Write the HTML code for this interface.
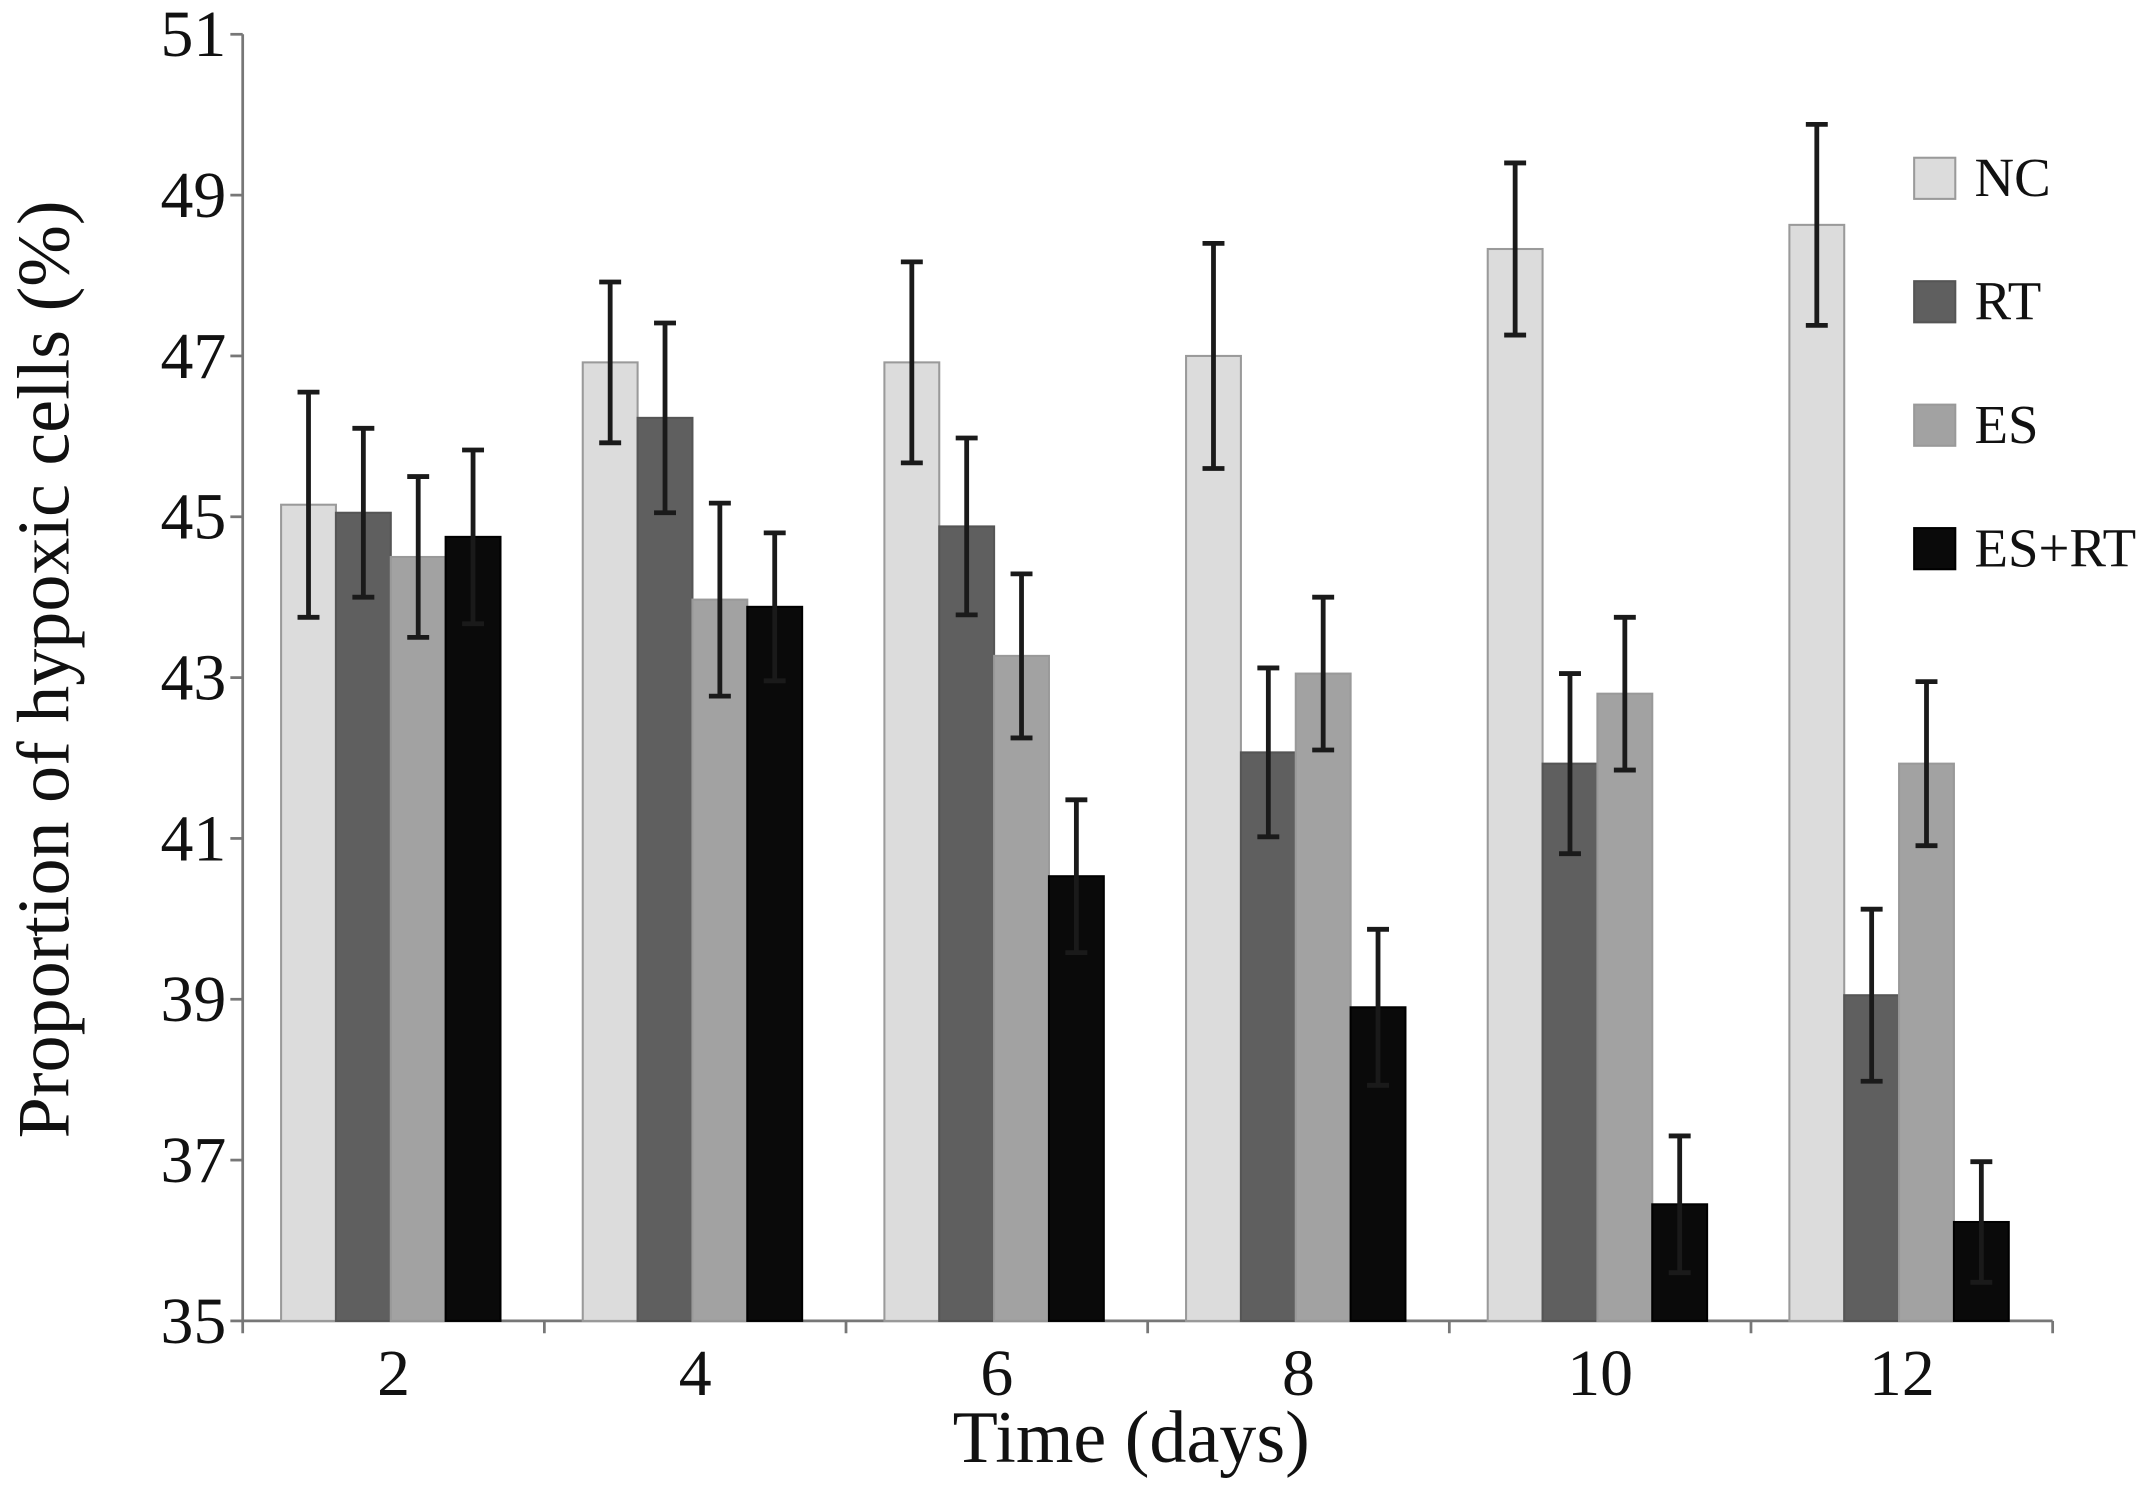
<!DOCTYPE html>
<html><head><meta charset="utf-8"><style>
html,body{margin:0;padding:0;background:#fff;}
svg{display:block;}
text{font-family:"Liberation Serif",serif;fill:#111;}
</style></head><body>
<svg id="chart" width="2150" height="1491" viewBox="0 0 1568 1087" preserveAspectRatio="none" xmlns="http://www.w3.org/2000/svg">
<g id="axes"></g><g id="bars"></g><g id="legend"></g>
</svg>
<script>
const categories = ["2","4","6","8","10","12"];
const seriesNames = ["NC","RT","ES","ES+RT"];
const ncValues = [45.15,46.92,46.92,47.0,48.33,48.63];
const ncErrors = [1.4,1.0,1.25,1.4,1.07,1.25];
const rtValues = [45.05,46.23,44.88,42.07,41.93,39.05];
const rtErrors = [1.05,1.18,1.1,1.05,1.12,1.07];
const esValues = [44.5,43.97,43.27,43.05,42.8,41.93];
const esErrors = [1.0,1.2,1.02,0.95,0.95,1.02];
const esrtValues = [44.75,43.88,40.53,38.9,36.45,36.23];
const esrtErrors = [1.08,0.92,0.95,0.97,0.85,0.75];
const yTicks = [35,37,39,41,43,45,47,49,51];

const NS="http://www.w3.org/2000/svg";
const X0=177,X1=1497,Y0=963,Y1=25,YMIN=35,YMAX=51;
const y=v=>Y0-(v-YMIN)/(YMAX-YMIN)*(Y0-Y1);
const groupW=(X1-X0)/categories.length;
const barW=40;
const xBar=(g,s)=>X0+g*groupW+28+s*barW;
function el(tag,attrs,parent){const e=document.createElementNS(NS,tag);for(const k in attrs)e.setAttribute(k,attrs[k]);parent.appendChild(e);return e;}
const axes=document.getElementById('axes'),bars=document.getElementById('bars'),legend=document.getElementById('legend');
const yAxis=el('line',{x1:X0,y1:Y1,x2:X0,y2:Y0,stroke:'#777','stroke-width':2},axes);


const xAxis=el('line',{x1:X0,y1:Y0,x2:X1,y2:Y0,stroke:'#777','stroke-width':2},axes);


yTicks.forEach(t=>{
  el('line',{x1:X0-9,y1:y(t),x2:X0,y2:y(t),stroke:'#777','stroke-width':2},axes);
  const tx=el('text',{x:X0-12,y:y(t)+16,'text-anchor':'end','font-size':48},axes);
  tx.textContent=t;
  
  
});
for(let i=0;i<=categories.length;i++){el('line',{x1:X0+i*groupW,y1:Y0,x2:X0+i*groupW,y2:Y0+9,stroke:'#777','stroke-width':2},axes);}
categories.forEach((c,i)=>{
  const tx=el('text',{x:X0+(i+0.5)*groupW,y:Y0+54,'text-anchor':'middle','font-size':48},axes);
  tx.textContent=c;
  
  
});
const yt=el('text',{x:0,y:0,'text-anchor':'middle','font-size':54,transform:'translate(50,488) rotate(-90)'},axes);
yt.textContent='Proportion of hypoxic cells (%)';


const xt=el('text',{x:825,y:1066,'text-anchor':'middle','font-size':54},axes);
xt.textContent='Time (days)';



const series=[[ncValues,ncErrors,'#dcdcdc','#9a9a9a'],[rtValues,rtErrors,'#5f5f5f','#555'],[esValues,esErrors,'#a2a2a2','#999'],[esrtValues,esrtErrors,'#0a0a0a','#000']];
series.forEach(([vals,errs,fill,stroke],s)=>{
  vals.forEach((v,g)=>{
    const x=xBar(g,s);
    const r=el('rect',{x:x,y:y(v),width:barW,height:Y0-y(v),fill:fill,stroke:stroke,'stroke-width':1.5},bars);
    
    
    const cx=x+barW/2,hi=y(v+errs[g]),lo=y(v-errs[g]);
    const eb=el('path',{d:`M${cx},${hi}V${lo}M${cx-8},${hi}H${cx+8}M${cx-8},${lo}H${cx+8}`,stroke:'#1a1a1a','stroke-width':3.5,fill:'none'},bars);
    
    
  });
});
const legY=[115,205,295,385];
seriesNames.forEach((n,s)=>{
  const r=el('rect',{x:1396,y:legY[s],width:30,height:30,fill:series[s][2],stroke:series[s][3],'stroke-width':1.5},legend);
  
  
  const t=el('text',{x:1440,y:legY[s]+28,'font-size':40},legend);
  t.textContent=n;
  
  
});
</script>
</body></html>
